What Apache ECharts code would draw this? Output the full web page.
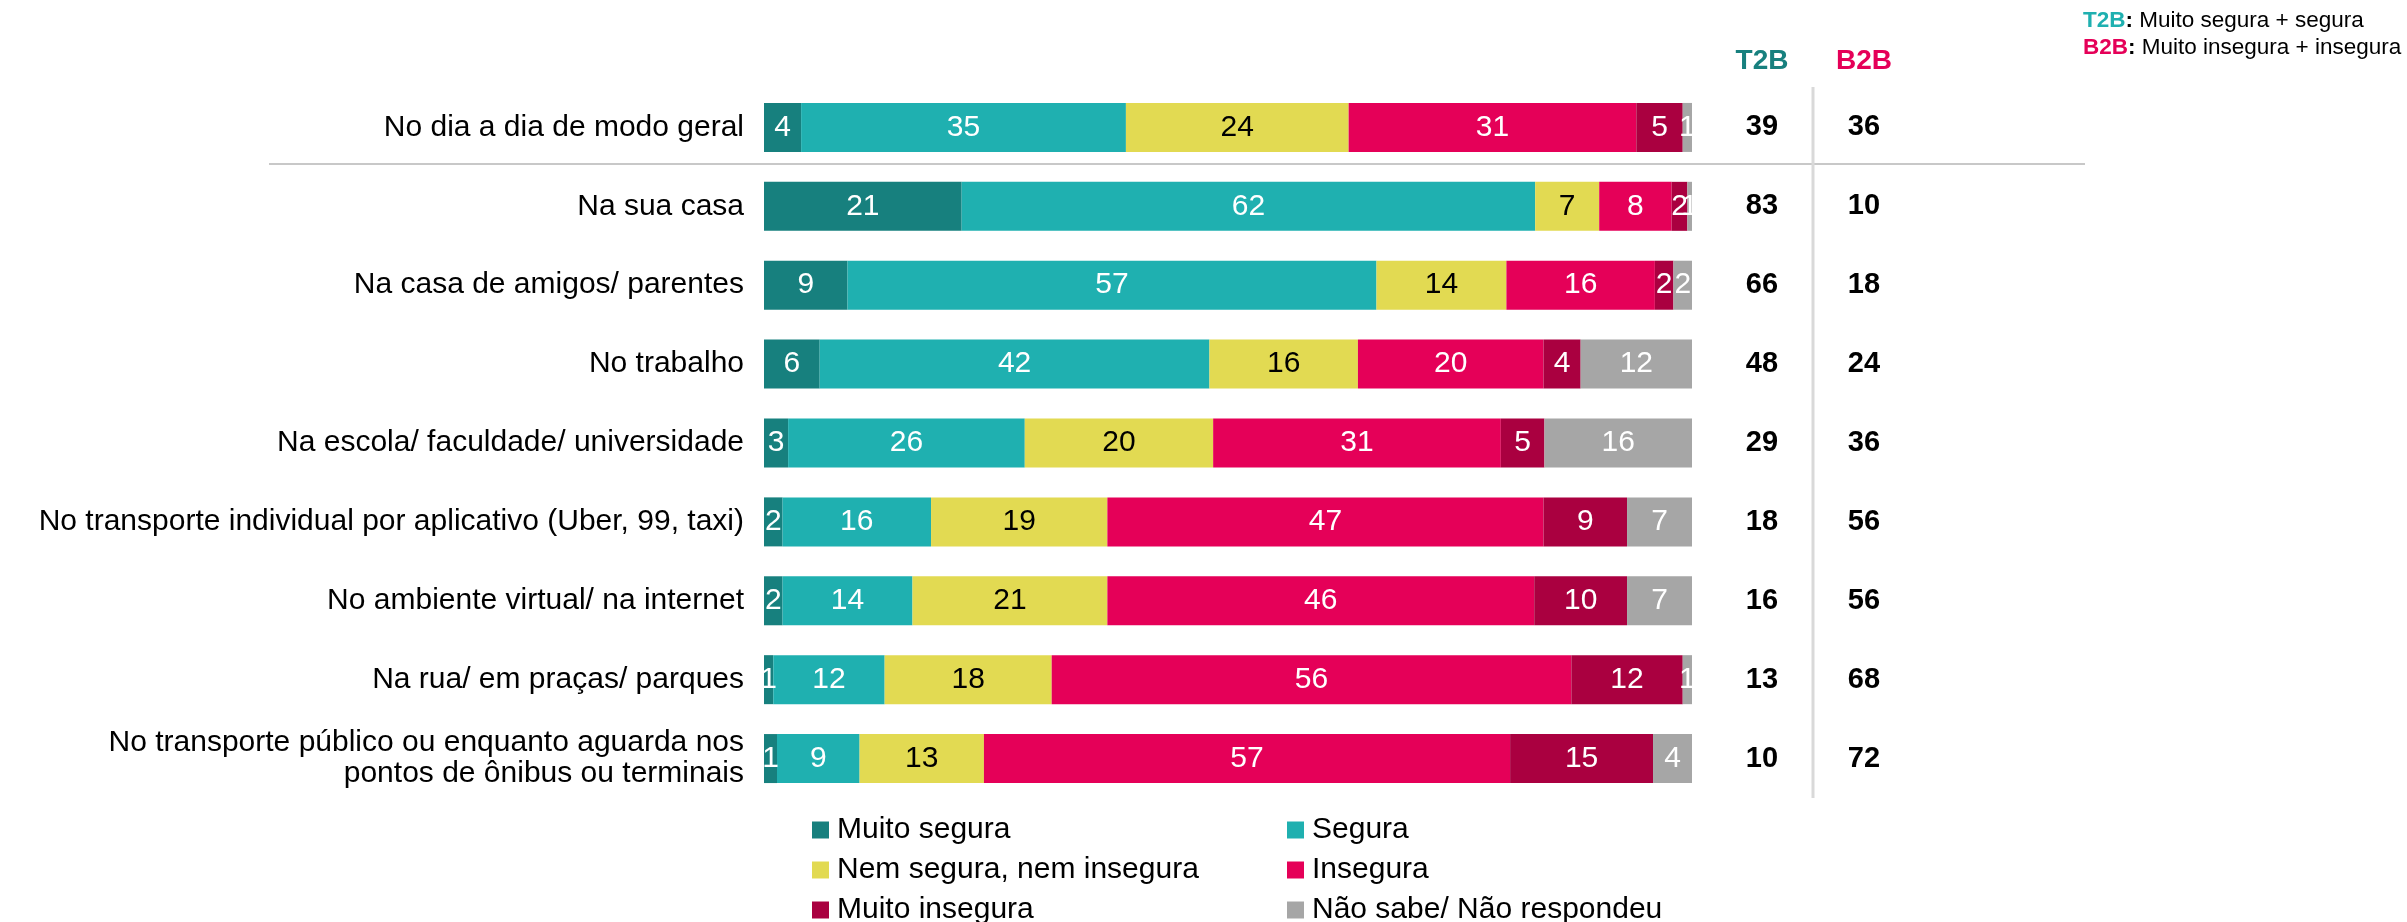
<!DOCTYPE html>
<html lang="pt">
<head>
  <meta charset="UTF-8">
  <title>Segurança por local</title>
  <script src="https://cdn.jsdelivr.net/npm/echarts@6/dist/echarts.min.js"></script>
  <style>
    html, body { margin: 0; padding: 0; width: 100%; height: 100%; background: #fff; }
    #chart { width: 2407px; height: 922px; }
  </style>
</head>
<body>
  <div id="chart"></div>
  <script>
    // categorias (de cima para baixo)
    const categories = [
      'No dia a dia de modo geral',
      'Na sua casa',
      'Na casa de amigos/ parentes',
      'No trabalho',
      'Na escola/ faculdade/ universidade',
      'No transporte individual por aplicativo (Uber, 99, taxi)',
      'No ambiente virtual/ na internet',
      'Na rua/ em praças/ parques',
      'No transporte público ou enquanto aguarda nos\npontos de ônibus ou terminais'
    ];

    // valores por resposta (%), rótulos arredondados
    const muitoSegura   = [4, 21.3, 9, 6, 2.6, 2, 2, 1, 1.4];
    const segura        = [35, 61.8, 57, 42, 25.5, 16, 14, 12, 8.9];
    const nemNem        = [24, 6.9, 14, 16, 20.3, 19, 21, 18, 13.4];
    const insegura      = [31, 7.8, 16, 20, 31.0, 47, 46, 56, 56.7];
    const muitoInsegura = [5, 1.7, 2, 4, 4.7, 9, 10, 12, 15.4];
    const naoSabe       = [1, 0.5, 2, 12, 15.9, 7, 7, 1, 4.2];

    const t2b = [39, 83, 66, 48, 29, 18, 16, 13, 10];
    const b2b = [36, 10, 18, 24, 36, 56, 56, 68, 72];

    const seriesNames = ['Muito segura', 'Segura', 'Nem segura, nem insegura', 'Insegura', 'Muito insegura', 'Não sabe/ Não respondeu'];
    const seriesData = [muitoSegura, segura, nemNem, insegura, muitoInsegura, naoSabe];
    const colors = ['#17807e', '#1fb0b0', '#e2da52', '#e50058', '#aa0040', '#a6a6a6'];

    const FONT = "'Liberation Sans', Arial, sans-serif";

    const chart = echarts.init(document.getElementById('chart'));

    const series = seriesNames.map((name, i) => ({
      name: name,
      type: 'bar',
      stack: 'total',
      barWidth: 49,
      data: seriesData[i],
      itemStyle: { color: colors[i] },
      label: {
        show: true,
        position: 'inside',
        formatter: p => Math.round(p.value),
        fontFamily: FONT,
        fontSize: 30,
        color: i === 2 ? '#000' : '#fff'
      },
      emphasis: { disabled: true }
    }));

    const legendText = { fontFamily: FONT, fontSize: 30, color: '#000', lineHeight: 40, padding: [0, 0, 0, 3] };

    const option = {
      animation: false,
      grid: { left: 764, right: 715, top: 88, height: 710, containLabel: false },
      xAxis: { type: 'value', min: 0, max: 100, show: false },
      yAxis: [
        {
          type: 'category',
          inverse: true,
          data: categories,
          axisLine: { show: false },
          axisTick: { show: false },
          axisLabel: {
            fontFamily: FONT, fontSize: 30, color: '#000', margin: 20, lineHeight: 31, align: 'right'
          }
        },
        {
          type: 'category',
          inverse: true,
          position: 'right',
          data: categories,
          axisLine: { show: false },
          axisTick: { show: false },
          axisLabel: {
            formatter: (v, i) => t2b[i],
            fontFamily: FONT, fontSize: 29, fontWeight: 'bold', color: '#000', margin: 70, align: 'center'
          }
        },
        {
          type: 'category',
          inverse: true,
          position: 'right',
          data: categories,
          axisLine: { show: false },
          axisTick: { show: false },
          axisLabel: {
            formatter: (v, i) => b2b[i],
            fontFamily: FONT, fontSize: 29, fontWeight: 'bold', color: '#000', margin: 172, align: 'center'
          }
        }
      ],
      legend: [
        {
          data: [seriesNames[0], seriesNames[2], seriesNames[4]],
          orient: 'vertical',
          left: 812, top: 810, height: 140, padding: 0,
          icon: 'rect', itemWidth: 17, itemHeight: 17, itemGap: 0,
          textStyle: legendText, selectedMode: false
        },
        {
          data: [seriesNames[1], seriesNames[3], seriesNames[5]],
          orient: 'vertical',
          left: 1287, top: 810, height: 140, padding: 0,
          icon: 'rect', itemWidth: 17, itemHeight: 17, itemGap: 0,
          textStyle: legendText, selectedMode: false
        }
      ],
      graphic: [
        // separador abaixo da primeira linha
        { type: 'line', shape: { x1: 269, y1: 164, x2: 2085, y2: 164 }, style: { stroke: '#c8c8c8', lineWidth: 2 } },
        // linha vertical entre T2B e B2B
        { type: 'line', shape: { x1: 1813, y1: 87, x2: 1813, y2: 798 }, style: { stroke: '#d9d9d9', lineWidth: 3 } },
        { type: 'text', x: 1762, y: 61, style: { text: 'T2B', fill: '#17807e', font: 'bold 28px ' + FONT, align: 'center', verticalAlign: 'middle' } },
        { type: 'text', x: 1864, y: 61, style: { text: 'B2B', fill: '#e50058', font: 'bold 28px ' + FONT, align: 'center', verticalAlign: 'middle' } },
        {
          type: 'text', x: 2083, y: 21,
          style: {
            text: '{a|T2B}{b|:} Muito segura + segura',
            font: '22.5px ' + FONT, fill: '#000', verticalAlign: 'middle',
            rich: { a: { fontWeight: 'bold', fill: '#1fb0b0', color: '#1fb0b0', fontSize: 22.5 }, b: { fontWeight: 'bold', fontSize: 22.5 } }
          }
        },
        {
          type: 'text', x: 2083, y: 48,
          style: {
            text: '{a|B2B}{b|:} Muito insegura + insegura',
            font: '22.5px ' + FONT, fill: '#000', verticalAlign: 'middle',
            rich: { a: { fontWeight: 'bold', fill: '#e50058', color: '#e50058', fontSize: 22.5 }, b: { fontWeight: 'bold', fontSize: 22.5 } }
          }
        }
      ],
      series: series
    };

    chart.setOption(option);
  </script>
</body>
</html>
